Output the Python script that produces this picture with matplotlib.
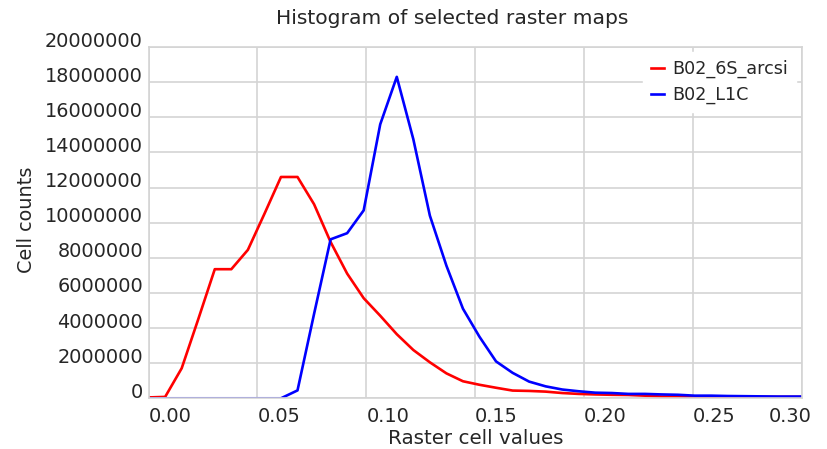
import numpy as np
import matplotlib
matplotlib.use("Agg")
from matplotlib import pyplot as plt
from matplotlib.transforms import ScaledTranslation, blended_transform_factory

# bin centres (raster cell values)
step = 0.0076
cell_values = np.arange(41) * step

# B02_6S_arcsi counts
arcsi = [50000, 80000, 1710000, 4500000, 7350000, 7350000, 8450000, 10500000,
         12600000, 12600000, 11050000, 8900000, 7100000, 5700000, 4700000,
         3650000, 2750000, 2050000, 1420000, 970000, 770000, 600000, 440000,
         420000, 380000, 300000, 250000, 220000, 200000, 190000, 150000,
         100000, 100000, 80000, 80000, 80000, 80000, 80000, 80000, 80000, 80000]

# B02_L1C counts
l1c = [0, 0, 0, 0, 0, 0, 0, 0, 0, 450000, 4800000, 9050000, 9400000, 10700000,
       15600000, 18300000, 14750000, 10400000, 7550000, 5100000, 3500000,
       2100000, 1450000, 950000, 680000, 500000, 400000, 320000, 300000,
       250000, 250000, 220000, 200000, 150000, 150000, 130000, 120000,
       110000, 100000, 100000, 100000]

series_names = ["B02_6S_arcsi", "B02_L1C"]
xticks = [0.00, 0.05, 0.10, 0.15, 0.20, 0.25, 0.30]
yticks = list(range(0, 20000001, 2000000))

W, H = 827, 449
fig = plt.figure(figsize=(W / 100, H / 100), dpi=100)
ax = fig.add_axes([148.6 / W, 1 - 398.3 / H, (801.7 - 148.6) / W, (398.3 - 47) / H])

ax.plot(cell_values, arcsi, color="red", lw=1.9, label=series_names[0])
ax.plot(cell_values, l1c, color="blue", lw=1.9, label=series_names[1])

ax.set_xlim(0, 0.30)
ax.set_ylim(0, 20000000)
ax.set_xticks(xticks)
ax.set_yticks(yticks)
ax.grid(True, color="#d4d4d4", lw=1.2)
ax.set_axisbelow(True)
for s in ax.spines.values():
    s.set_color("#d4d4d4")
    s.set_linewidth(1.2)
ax.tick_params(length=0, labelbottom=False, labelleft=False)

txtc = "#262626"
# y tick labels, right aligned, a bit above the grid line
ytr = ax.get_yaxis_transform() + ScaledTranslation(0, 6 / 100, fig.dpi_scale_trans)
for v in yticks:
    ax.text(-5.6 / (801.7 - 148.6), v, str(v), transform=ytr, ha="right", va="center",
            fontsize=13.9, color=txtc)

# x tick labels, left aligned at the tick
xtr = blended_transform_factory(ax.transData, ax.transAxes)
for v in xticks:
    off = -33 / 100 if v == xticks[-1] else 0
    t = xtr + ScaledTranslation(off, -9 / 100, fig.dpi_scale_trans)
    ax.text(v, 0, "%.2f" % v, transform=t, ha="left", va="top", fontsize=13.9, color=txtc)

fig.text(476 / W, 1 - 438 / H, "Raster cell values", ha="center", va="center",
         fontsize=14.3, color=txtc)
fig.text(27 / W, 1 - 220 / H, "Cell counts", ha="center", va="center", rotation=90,
         fontsize=13.9, color=txtc)
fig.text(452 / W, 1 - 19 / H, "Histogram of selected raster maps", ha="center",
         va="center", fontsize=14.6, color=txtc)

leg = ax.legend(loc="upper right", bbox_to_anchor=(796 / W, 1 - 52 / H),
                bbox_transform=fig.transFigure, frameon=True, fontsize=12.6,
                handlelength=0.75, handletextpad=0.5, borderpad=0.45,
                labelspacing=0.45, fancybox=False, borderaxespad=0)
leg.get_frame().set_edgecolor("white")
leg.get_frame().set_facecolor("white")
leg.get_frame().set_alpha(1)
for t in leg.get_texts():
    t.set_color(txtc)

fig.savefig("out.png", dpi=100, facecolor="white")
